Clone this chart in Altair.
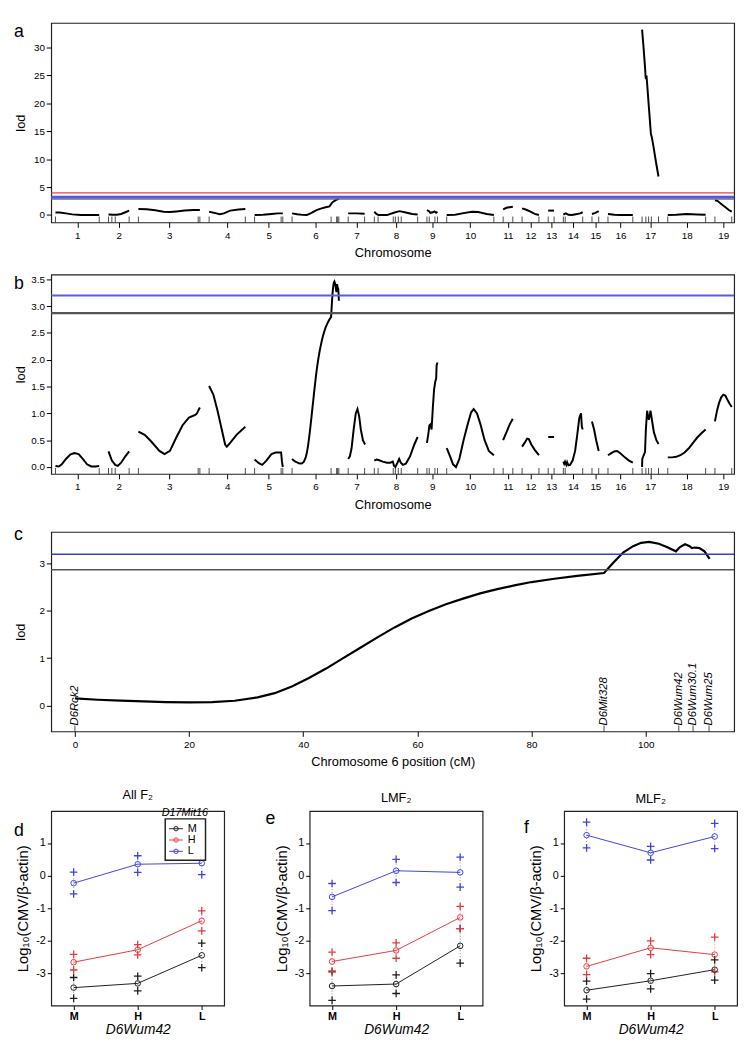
import altair as alt
import pandas as pd

FONT = "Liberation Sans"
BLACK = "#1e1e1e"
RED = "#e8383d"
BLUE = "#4040e6"

# ---------------- genome layout (cM) ----------------
CHR_LABELS = [str(i) for i in range(1, 20)]
CHR_LEN = [104, 49, 146, 86, 67, 111.3, 40, 103, 25, 112, 23, 40, 14, 46, 16, 59, 39, 90, 40]
CHR_GAP = 22
GENOME_DOMAIN = [-10, 1612]

# marker positions (cM within chromosome) for rug
MARKERS = {1: [0, 104], 2: [0, 8, 16, 49], 3: [0, 142, 146], 4: [0, 86], 5: [0, 63, 67],
           6: [0, 92.7, 105.8, 108.3, 111.1], 7: [0, 39], 8: [0, 9, 45, 50, 57, 64, 103],
           9: [0, 5.5, 19, 25], 10: [0, 112], 11: [0, 23], 12: [0, 40], 13: [0, 14],
           14: [0, 4.4, 46], 15: [0, 16], 16: [0, 59], 17: [0, 9, 15.5, 22, 39],
           18: [0, 90], 19: [0, 40]}

# ---------------- panel a scan (cM, LOD) ----------------
SCAN_A = {
    1: [(0, 0.45), (10, 0.45), (25, 0.3), (40, 0.12), (60, 0.02), (80, 0.0), (104, 0.0)],
    2: [(0, 0.1), (10, 0.05), (20, 0.05), (30, 0.2), (40, 0.5), (49, 0.8)],
    3: [(0, 1.1), (20, 1.05), (40, 0.85), (60, 0.6), (75, 0.55), (90, 0.65), (110, 0.8), (130, 0.9), (146, 0.9)],
    4: [(0, 0.6), (15, 0.35), (25, 0.15), (35, 0.3), (50, 0.8), (70, 1.0), (86, 1.1)],
    5: [(0, 0.0), (20, 0.05), (40, 0.2), (55, 0.3), (67, 0.3)],
    6: [(0, 0.3), (12, 0.15), (25, 0.03), (35, 0.0), (45, 0.35), (58, 0.9), (70, 1.2), (80, 1.4),
        (89, 1.55), (95, 2.2), (100, 2.5), (105, 2.75), (111.3, 2.9)],
    7: [(0, 0.3), (20, 0.3), (39, 0.25)],
    8: [(0, 0.6), (5, 0.2), (10, 0.0), (30, 0.0), (50, 0.5), (60, 0.7), (75, 0.45), (90, 0.2), (103, 0.1)],
    9: [(0, 0.9), (5, 0.7), (8, 0.4), (14, 0.5), (18, 0.65), (22, 0.4), (25, 0.6)],
    10: [(0, 0.0), (20, 0.05), (40, 0.35), (60, 0.6), (75, 0.55), (95, 0.2), (112, 0.0)],
    11: [(0, 1.0), (8, 1.3), (15, 1.4), (23, 1.5)],
    12: [(0, 1.2), (10, 0.95), (20, 0.6), (30, 0.2), (40, 0.0)],
    13: [(0, 0.8), (14, 0.8)],
    14: [(0, 0.1), (6, 0.3), (12, 0.05), (20, 0.0), (30, 0.15), (40, 0.3), (46, 0.5)],
    15: [(0, 0.2), (8, 0.4), (16, 0.7)],
    16: [(0, 0.2), (15, 0.05), (30, 0.0), (59, 0.0)],
    17: [(0, 33.2), (3, 30.5), (7, 26.5), (8.5, 24.6), (9.5, 24.4), (10.5, 25.0), (13, 22.5), (17, 18.5),
         (21, 14.5), (23, 14.0), (27, 12.3), (33, 9.5), (39, 6.9)],
    18: [(0, 0.0), (20, 0.05), (45, 0.2), (70, 0.1), (90, 0.05)],
    19: [(0, 2.65), (6, 2.55), (15, 2.0), (25, 1.4), (33, 0.9), (40, 0.6)],
}
THR_A_RED = 3.98
THR_BLUE = 3.2
THR_GRAY = 2.87

# ---------------- chromosome 6 profile (panels b and c) ----------------
CHR6_POS = [0, 4, 8, 12, 16, 20, 24, 28, 32, 35, 38, 41, 44, 47, 50, 53, 56, 59, 62, 65, 68, 71, 74,
            77, 80, 84, 88, 92.7, 94.4, 96.1, 97.8, 99.2, 100.6, 102.3, 103.7, 105.3, 106.0, 106.9,
            107.7, 108.1, 108.6, 109.4, 110.3, 111.2]
CHR6_LOD = [0.15, 0.12, 0.10, 0.085, 0.07, 0.065, 0.07, 0.10, 0.17, 0.26, 0.40, 0.58, 0.78, 1.0,
            1.22, 1.44, 1.65, 1.84, 2.0, 2.14, 2.26, 2.37, 2.46, 2.54, 2.61, 2.68, 2.74, 2.80, 3.03,
            3.24, 3.37, 3.44, 3.46, 3.42, 3.35, 3.26, 3.35, 3.41, 3.37, 3.33, 3.34, 3.33, 3.26, 3.10]
CHR6_MARKER_NAMES = ["D6Rck2", "D6Mit328", "D6Wum42", "D6Wum30.1", "D6Wum25"]
CHR6_MARKER_POS = [0, 92.7, 105.8, 108.3, 111.1]

# ---------------- panel b scan (other chromosomes) ----------------
SCAN_B = {
    1: [(0, 0.02), (8, 0.01), (15, 0.05), (25, 0.15), (35, 0.23), (45, 0.26), (55, 0.24), (65, 0.15),
        (75, 0.05), (85, 0.01), (95, 0.01), (104, 0.02)],
    2: [(0, 0.29), (8, 0.12), (16, 0.04), (22, 0.02), (30, 0.08), (40, 0.2), (49, 0.29)],
    3: [(0, 0.66), (15, 0.6), (30, 0.48), (50, 0.3), (62, 0.24), (75, 0.3), (90, 0.55), (105, 0.78),
        (120, 0.92), (135, 0.97), (139, 1.0), (142, 1.05), (146, 1.11)],
    4: [(0, 1.51), (10, 1.35), (20, 1.05), (30, 0.7), (38, 0.42), (42, 0.38), (50, 0.45), (65, 0.6), (86, 0.75)],
    5: [(0, 0.14), (10, 0.07), (18, 0.04), (28, 0.12), (40, 0.24), (50, 0.27), (63, 0.27), (65, 0.1), (67, 0.0)],
    7: [(0, 0.15), (4, 0.2), (8, 0.35), (13, 0.7), (18, 1.0), (22, 1.08), (26, 0.95), (30, 0.7), (35, 0.5), (40, 0.42)],
    8: [(0, 0.12), (5, 0.14), (10, 0.13), (20, 0.1), (30, 0.08), (38, 0.08), (44, 0.1), (47, 0.02), (50, 0.0),
        (55, 0.08), (59, 0.15), (63, 0.08), (68, 0.04), (75, 0.06), (85, 0.2), (95, 0.42), (103, 0.56)],
    9: [(0, 0.45), (3, 0.6), (6, 0.78), (9, 0.8), (11, 0.7), (14, 1.1), (17, 1.45), (20, 1.6), (22, 1.65),
        (23, 1.9), (25, 1.95)],
    10: [(0, 0.35), (8, 0.2), (15, 0.05), (22, 0.0), (30, 0.15), (40, 0.5), (50, 0.8), (58, 1.02), (64, 1.08),
         (72, 1.0), (80, 0.8), (90, 0.5), (100, 0.3), (112, 0.22)],
    11: [(0, 0.5), (8, 0.65), (16, 0.8), (23, 0.9)],
    12: [(0, 0.38), (6, 0.45), (12, 0.53), (16, 0.52), (22, 0.42), (30, 0.32), (40, 0.22)],
    13: [(0, 0.56), (14, 0.56)],
    14: [(0, 0.1), (2, 0.06), (4, 0.1), (7, 0.04), (9, 0.09), (12, 0.03), (16, 0.04), (22, 0.12), (28, 0.3),
         (33, 0.6), (38, 0.92), (42, 1.0), (44, 0.75), (46, 0.7)],
    15: [(0, 0.85), (5, 0.7), (10, 0.5), (16, 0.3)],
    16: [(0, 0.22), (8, 0.26), (15, 0.29), (22, 0.3), (30, 0.25), (40, 0.18), (50, 0.12), (59, 0.08)],
    17: [(0, 0.0), (0.5, 0.15), (4, 0.22), (7, 0.28), (9, 0.7), (12, 1.05), (14, 0.95), (16, 0.88), (18, 0.95),
         (20, 1.05), (23, 0.9), (28, 0.65), (34, 0.5), (39, 0.43)],
    18: [(0, 0.18), (10, 0.18), (20, 0.19), (30, 0.22), (40, 0.27), (50, 0.35), (60, 0.45), (70, 0.55),
         (80, 0.63), (90, 0.7)],
    19: [(0, 0.85), (5, 1.05), (10, 1.2), (15, 1.3), (20, 1.35), (25, 1.33), (30, 1.25), (35, 1.18), (40, 1.12)],
}

# ---------------- panels d-f: log10(CMV/b-actin) by D6Wum42 (M,H,L) ----------------
GENO = ["M", "H", "L"]
D_MEAN = {"M": [-3.43, -3.30, -2.44], "H": [-2.65, -2.27, -1.38], "L": [-0.23, 0.35, 0.38]}
D_UP = {"M": [-3.12, -3.08, -2.07], "H": [-2.41, -2.11, -1.08], "L": [0.11, 0.61, 0.75]}
D_LO = {"M": [-3.76, -3.53, -2.82], "H": [-2.89, -2.43, -1.69], "L": [-0.56, 0.10, 0.03]}
E_MEAN = {"M": [-3.38, -3.32, -2.15], "H": [-2.63, -2.29, -1.28], "L": [-0.65, 0.15, 0.10]}
E_UP = {"M": [-2.95, -3.04, -1.62], "H": [-2.34, -2.06, -0.94], "L": [-0.24, 0.50, 0.57]}
E_LO = {"M": [-3.82, -3.61, -2.68], "H": [-2.92, -2.53, -1.62], "L": [-1.07, -0.21, -0.35]}
F_MEAN = {"M": [-3.51, -3.22, -2.88], "H": [-2.78, -2.21, -2.42], "L": [1.24, 0.70, 1.20]}
F_UP = {"M": [-3.23, -3.00, -2.58], "H": [-2.53, -2.00, -1.88], "L": [1.64, 0.90, 1.60]}
F_LO = {"M": [-3.78, -3.47, -3.20], "H": [-3.03, -2.42, -2.95], "L": [0.85, 0.48, 0.83]}
LEGEND_TITLE = "D17Mit16"

# ---------------- derived layout ----------------
STARTS = []
_s = 0.0
for L in CHR_LEN:
    STARTS.append(_s)
    _s += L + CHR_GAP
CENTERS = [round(st + L / 2, 1) for st, L in zip(STARTS, CHR_LEN)]
LABEL_EXPR = "[" + ",".join("'%s'" % c for c in CHR_LABELS) + "][indexof([" + \
    ",".join(repr(c) for c in CENTERS) + "], datum.value)]"


def genome_df(curves):
    rows = []
    for c, pts in curves.items():
        for p, v in pts:
            rows.append({"chr": c, "g": STARTS[c - 1] + p, "lod": v})
    return pd.DataFrame(rows)


scan_a = genome_df(SCAN_A)
curves_b = dict(SCAN_B)
curves_b[6] = list(zip(CHR6_POS, CHR6_LOD))
scan_b = genome_df(curves_b)
rug = pd.DataFrame([{"g": STARTS[c - 1] + p} for c, ps in MARKERS.items() for p in ps])

W = 695
H_SCAN = 203


def letter(ch, x, y):
    return alt.Chart(pd.DataFrame({"t": [ch]})).mark_text(
        font=FONT, fontSize=18, align="left", baseline="alphabetic", color="black"
    ).encode(text="t:N", x=alt.value(x), y=alt.value(y))


def scan_panel(df, ydom, yvals, ylabexpr, thr, ch, ly, H, lw):
    xenc = alt.X("g:Q", scale=alt.Scale(domain=GENOME_DOMAIN, nice=False, zero=False),
                 axis=alt.Axis(values=CENTERS, labelExpr=LABEL_EXPR, title="Chromosome",
                               labelFontSize=10, tickSize=5, labelPadding=3, titlePadding=7,
                               titleFontSize=13))
    yscale = alt.Scale(domain=ydom, nice=False, zero=False)
    yaxis = alt.Axis(values=yvals, labelExpr=ylabexpr, title="lod", titleX=-31,
                     titleBaseline="middle", titleFontSize=13, labelFontSize=10, tickSize=5,
                     labelPadding=2)
    yenc = alt.Y("lod:Q", scale=yscale, axis=yaxis)
    line = alt.Chart(df).mark_line(color="black", strokeWidth=lw).encode(x=xenc, y=yenc, detail="chr:N")
    rugm = alt.Chart(rug).mark_tick(color="black", size=6, thickness=1).encode(x=xenc, y=alt.value(H - 3))
    layers = [line, rugm]
    for val, col, sw in thr:
        layers.append(alt.Chart(pd.DataFrame({"lod": [val]})).mark_rule(color=col, strokeWidth=sw)
                      .encode(y=yenc))
    layers.append(letter(ch, -38, ly))
    return alt.layer(*layers).properties(width=W, height=H)


pa = scan_panel(scan_a, [-1.32, 34.4], list(range(0, 31, 5)), "''+datum.value",
                [(THR_A_RED, "#e04848", 1.3), (THR_BLUE, "#5656ee", 3), (THR_GRAY, "#707070", 1.3)],
                "a", 14.5, H_SCAN, 2)
pb = scan_panel(scan_b, [-0.13, 3.59], [0, 0.5, 1, 1.5, 2, 2.5, 3, 3.5], "format(datum.value, '.1f')",
                [(THR_BLUE, "#5a5af0", 2), (THR_GRAY, "#555555", 2.5)], "b", 15, H_SCAN, 2)

# panel c
c_df = pd.DataFrame({"pos": CHR6_POS, "lod": CHR6_LOD})
m_df = pd.DataFrame({"pos": CHR6_MARKER_POS, "name": CHR6_MARKER_NAMES})
xc = alt.X("pos:Q", scale=alt.Scale(domain=[-4.15, 115.5], nice=False, zero=False),
           axis=alt.Axis(values=[0, 20, 40, 60, 80, 100], labelExpr="''+datum.value",
                         title="Chromosome 6 position (cM)",
                         labelFontSize=10, tickSize=5, labelPadding=3, titlePadding=7, titleFontSize=13))
yc_scale = alt.Scale(domain=[-0.55, 3.67], nice=False, zero=False)
yc = alt.Y("lod:Q", scale=yc_scale,
           axis=alt.Axis(values=[0, 1, 2, 3], labelExpr="''+datum.value", title="lod", titleX=-31,
                         titleBaseline="middle", titleFontSize=13, labelFontSize=10, tickSize=5,
                         labelPadding=2))
pc = alt.layer(
    alt.Chart(c_df).mark_line(color="black", strokeWidth=2.2).encode(x=xc, y=yc),
    alt.Chart(m_df).mark_tick(color="black", size=6, thickness=1).encode(x=xc, y=alt.value(H_SCAN - 3)),
    alt.Chart(m_df).mark_text(font=FONT, fontSize=11.5, fontStyle="italic", angle=270, align="left",
                              baseline="middle", color="black").encode(x=xc, y=alt.value(H_SCAN - 6), text="name:N"),
    alt.Chart(pd.DataFrame({"lod": [THR_BLUE]})).mark_rule(color="#3a3ae0", strokeWidth=1.5).encode(y=yc),
    alt.Chart(pd.DataFrame({"lod": [THR_GRAY]})).mark_rule(color="#555555", strokeWidth=1.5).encode(y=yc),
    letter("c", -38, 8),
).properties(width=W, height=H_SCAN)

# ---------------- interaction panels ----------------
H_D = 198
CROSS = "M-1,0H1M0,-1V1"


def inter_df(mean, up, lo):
    rows = []
    for g in GENO:
        for i in range(3):
            rows.append({"grp": g, "x": i + 1, "mean": mean[g][i], "up": up[g][i], "lo": lo[g][i]})
    return pd.DataFrame(rows)


def inter_panel(df, title, ch, lx, ly, width, legend=False):
    xenc = alt.X("x:Q", scale=alt.Scale(domain=[0.65, 3.35], nice=False, zero=False),
                 axis=alt.Axis(values=[1, 2, 3], labelExpr="['M','H','L'][datum.value-1]",
                               title="D6Wum42", titleFontStyle="italic", titleFontSize=14,
                               labelFontWeight="bold", labelFontSize=11, tickSize=4, labelPadding=1,
                               titlePadding=1))
    yscale = alt.Scale(domain=[-3.98, 1.98], nice=False, zero=False)
    yaxis = alt.Axis(values=[-3, -2, -1, 0, 1], labelExpr="''+datum.value", title="Log₁₀(CMV/β-actin)",
                     titleFontSize=15, titleX=-29, titleBaseline="middle", labelFontSize=11, tickSize=4,
                     labelPadding=2)
    cscale = alt.Scale(domain=GENO, range=[BLACK, RED, BLUE])
    stroke = alt.Stroke("grp:N", scale=cscale, legend=None)
    rules = alt.Chart(df).mark_rule(strokeDash=[1, 2], strokeWidth=1, opacity=0.6).encode(
        x=xenc, y=alt.Y("lo:Q", scale=yscale, axis=yaxis), y2="up:Q", stroke=stroke)
    lines = alt.Chart(df).mark_line(strokeWidth=1).encode(
        x=xenc, y=alt.Y("mean:Q", scale=yscale, axis=yaxis), stroke=stroke)
    crosses = alt.Chart(df).transform_fold(["up", "lo"], as_=["k", "v"]).mark_point(
        shape=CROSS, filled=False, size=60, strokeWidth=1.3, opacity=1).encode(
        x=xenc, y=alt.Y("v:Q", scale=yscale, axis=yaxis), stroke=stroke)
    circles = alt.Chart(df).mark_point(shape="circle", filled=False, size=32, strokeWidth=1, opacity=1).encode(
        x=xenc, y=alt.Y("mean:Q", scale=yscale, axis=yaxis), stroke=stroke)
    data_layer = alt.layer(rules, lines, crosses, circles, letter(ch, lx, ly))
    if legend:
        leg_df = pd.DataFrame({"grp": GENO})
        ly_enc = alt.Y("grp:N", scale=alt.Scale(type="point", domain=GENO, range=[18, 41], padding=0),
                       axis=None)
        box = alt.Chart(pd.DataFrame({"t": [LEGEND_TITLE]})).mark_rect(
            fill="white", stroke="#222222", strokeWidth=1.5).encode(
            x=alt.value(116), x2=alt.value(157), y=alt.value(8), y2=alt.value(50))
        ttl = alt.Chart(pd.DataFrame({"t": [LEGEND_TITLE]})).mark_text(
            font=FONT, fontSize=11, fontStyle="italic", color="black", baseline="bottom").encode(
            text="t:N", x=alt.value(136), y=alt.value(7))
        segs = alt.Chart(leg_df).mark_rule(strokeWidth=1).encode(
            x=alt.value(120), x2=alt.value(134), y=ly_enc, stroke=stroke)
        dots = alt.Chart(leg_df).mark_point(shape="circle", filled=False, size=20, strokeWidth=1,
                                            opacity=1).encode(x=alt.value(127), y=ly_enc, stroke=stroke)
        labs = alt.Chart(leg_df).mark_text(font=FONT, fontSize=11, align="left", baseline="middle",
                                           color="black").encode(x=alt.value(139), y=ly_enc, text="grp:N")
        leg_layer = alt.layer(box, ttl, segs, dots, labs)
        panel = alt.layer(data_layer, leg_layer).resolve_scale(y="independent")
    else:
        panel = data_layer
    return panel.properties(
        width=width, height=H_D,
        title=alt.TitleParams(title, font=FONT, fontSize=13, fontWeight="normal", offset=5,
                              anchor="middle", frame="group", color="black"))


pdd = inter_panel(inter_df(D_MEAN, D_UP, D_LO), "All F₂", "d", -38, 25, 176, legend=True)
pee = inter_panel(inter_df(E_MEAN, E_UP, E_LO), "LMF₂", "e", -45, 13, 176)
pff = inter_panel(inter_df(F_MEAN, F_UP, F_LO), "MLF₂", "f", -41, 22, 176)

top = alt.vconcat(pa, pb, pc, spacing=13).resolve_scale(x="independent", y="independent")
bottom = alt.hconcat(pdd, pee, pff, spacing=40).resolve_scale(
    x="independent", y="independent", stroke="independent")

chart = alt.vconcat(top, bottom, spacing=19).resolve_scale(
    x="independent", y="independent", stroke="independent"
).configure_view(
    stroke="#222222", strokeWidth=1.2
).configure_axis(
    domain=False, grid=False, tickColor="black", labelColor="black", titleColor="black",
    labelFont=FONT, titleFont=FONT, titleFontWeight="normal"
)

chart.save("out.html", embed_options={"renderer": "svg", "actions": False})
